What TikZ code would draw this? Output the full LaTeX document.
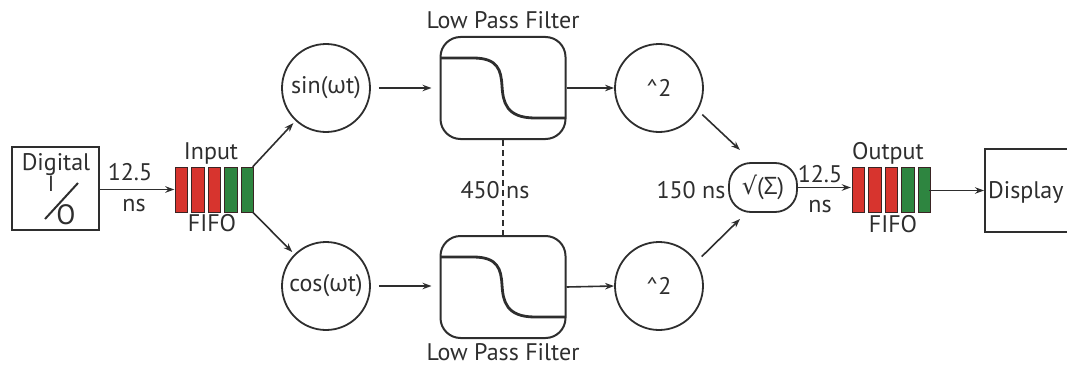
\documentclass[tikz,border=0pt]{standalone}
\usepackage{fontspec}
\setmainfont{PT Sans}
\newfontfamily\grkfont{Open Sans}
\newfontfamily\symfont{DejaVu Sans}
\usetikzlibrary{arrows.meta,calc}
\definecolor{ink}{HTML}{2E2E2E}
\definecolor{fred}{HTML}{D7342E}
\definecolor{fgreen}{HTML}{2E8540}
\definecolor{fedge}{HTML}{3A2424}
\begin{document}
\begin{tikzpicture}[x=1pt,y=-1pt,
  lbl/.style={font=\fontsize{24}{26}\selectfont, text=ink, inner sep=0pt},
  blk/.style={draw=ink, line width=2pt, rectangle, inner sep=0pt},
  rnd/.style={circle, draw=ink, line width=1.8pt, minimum size=88pt, inner sep=0pt, font=\fontsize{24}{26}\selectfont, text=ink},
  lpf/.style={draw=ink, line width=2pt, rounded corners=20pt, minimum width=125pt, minimum height=102pt, inner sep=0pt},
  conn/.style={draw=ink, line width=1.6pt, -{Stealth[length=9pt,width=6.5pt]}},
  fifo/.style={minimum width=78pt, minimum height=45pt, inner sep=0pt},
  redbar/.style={fill=fred, draw=fedge, line width=1pt},
  greenbar/.style={fill=fgreen, draw=fedge, line width=1pt},
  dashline/.style={draw=ink, line width=1.8pt, dash pattern=on 6pt off 4pt},
  curveline/.style={draw=ink, line width=2.8pt}
]
\useasboundingbox (0,0) rectangle (1067,369);
\clip (0,0) rectangle (1067,369);

% Digital I/O
\node[blk, minimum width=87pt, minimum height=83pt] (din) at (55.5,188.5) {};
\node[lbl] (dlab) at (56,165) {Digital};
\node[text=ink, inner sep=0pt, font=\fontsize{22}{24}\selectfont] (dI) at (51,184) {I};
\draw[ink, line width=2pt] (45,219) -- (78,183);
\node[text=ink, inner sep=0pt, font=\fontsize{28}{30}\selectfont] (dO) at (66,215) {O};

% Input FIFO
\node[fifo] (fin) at (213.5,189.5) {};
\foreach \i in {0,1,2} \draw[redbar] (175+\i*16.5,167) rectangle ++(12.5,45);
\foreach \i in {3,4} \draw[greenbar] (175+\i*16.5,167) rectangle ++(12.5,45);
\node[lbl] (finT) at (211,153) {Input};
\node[lbl] (finB) at (212,223) {FIFO};
\draw[conn] (din.east |- fin.west) -- (fin.west);
\node[lbl] (d1a) at (130,172.5) {12.5};
\node[lbl] (d1b) at (134,205.5) {ns};

% mixers
\node[rnd] (sin) at (326,88) {sin({\grkfont ω}t)};
\node[rnd] (cos) at (326,286) {cos({\grkfont ω}t)};
\draw[conn, shorten >=3pt] (fin.north east) -- (sin);
\draw[conn, shorten >=3pt] (fin.south east) -- (cos);

% low pass filters
\node[lpf] (lpfA) at (503,88) {};
\node[lpf] (lpfB) at (503,287) {};
\foreach \n in {lpfA,lpfB}{
  \begin{scope}[shift={(\n.center)}]
    \draw[curveline] (-62.5,-30) -- (-30,-30) .. controls (-5,-30) and (-2,-18) .. (-1,-2)
      .. controls (0,14) and (3,30) .. (32,30) -- (62.5,30);
  \end{scope}
}
\node[lbl] (lpfAT) at (503,20) {Low Pass Filter};
\node[lbl] (lpfBT) at (503,352) {Low Pass Filter};
\draw[dashline] (lpfA.south) -- (lpfB.north);
\node[lbl] (dly) at (495,190) {450 ns};
\draw[conn, shorten <=8pt, shorten >=8pt] (sin.east) -- (sin.east -| lpfA.west);
\draw[conn, shorten <=8pt, shorten >=8pt] (cos.east) -- (cos.east -| lpfB.west);

% squares
\node[rnd] (sqA) at (659,88) {\textasciicircum 2};
\node[rnd] (sqB) at (659,286) {\textasciicircum 2};
\draw[conn] (lpfA.east) -- (sqA.west);
\draw[conn] (lpfB.east) -- (sqB.west);

% sum / sqrt
\node[draw=ink, line width=1.8pt, rounded corners=22pt, minimum width=68pt, minimum height=49pt, inner sep=0pt, font=\fontsize{24}{26}\selectfont, text=ink] (sum) at (763,187.5) {{\symfont √}({\grkfont Σ})};
\node[lbl] (sumT) at (691,190) {150 ns};
\coordinate (sumIn1) at (740,150);
\coordinate (sumIn2) at (740,219);
\draw[conn, shorten <=6pt] (sqA.-30) -- (sumIn1);
\draw[conn, shorten <=7pt] (sqB.33) -- (sumIn2);

% Output FIFO
\node[fifo] (fout) at (890,189) {};
\foreach \i in {0,1,2} \draw[redbar] (852+\i*16.5,167) rectangle ++(12.5,45);
\foreach \i in {3,4} \draw[greenbar] (852+\i*16.5,167) rectangle ++(12.5,45);
\node[lbl] (foutT) at (888,153) {Output};
\node[lbl] (foutB) at (893,224) {FIFO};
\draw[conn] (sum.east) -- (sum.east -| fout.west);
\node[lbl] (d2a) at (820,174) {12.5};
\node[lbl] (d2b) at (820,206) {ns};

% Display
\node[blk, minimum width=110pt, minimum height=83pt] (disp) at (1040,190.5) {};
\node[lbl, anchor=west] (dispT) at (988,192) {Display};
\draw[conn] (fout.east |- disp.west) -- (disp.west);
\end{tikzpicture}
\end{document}
